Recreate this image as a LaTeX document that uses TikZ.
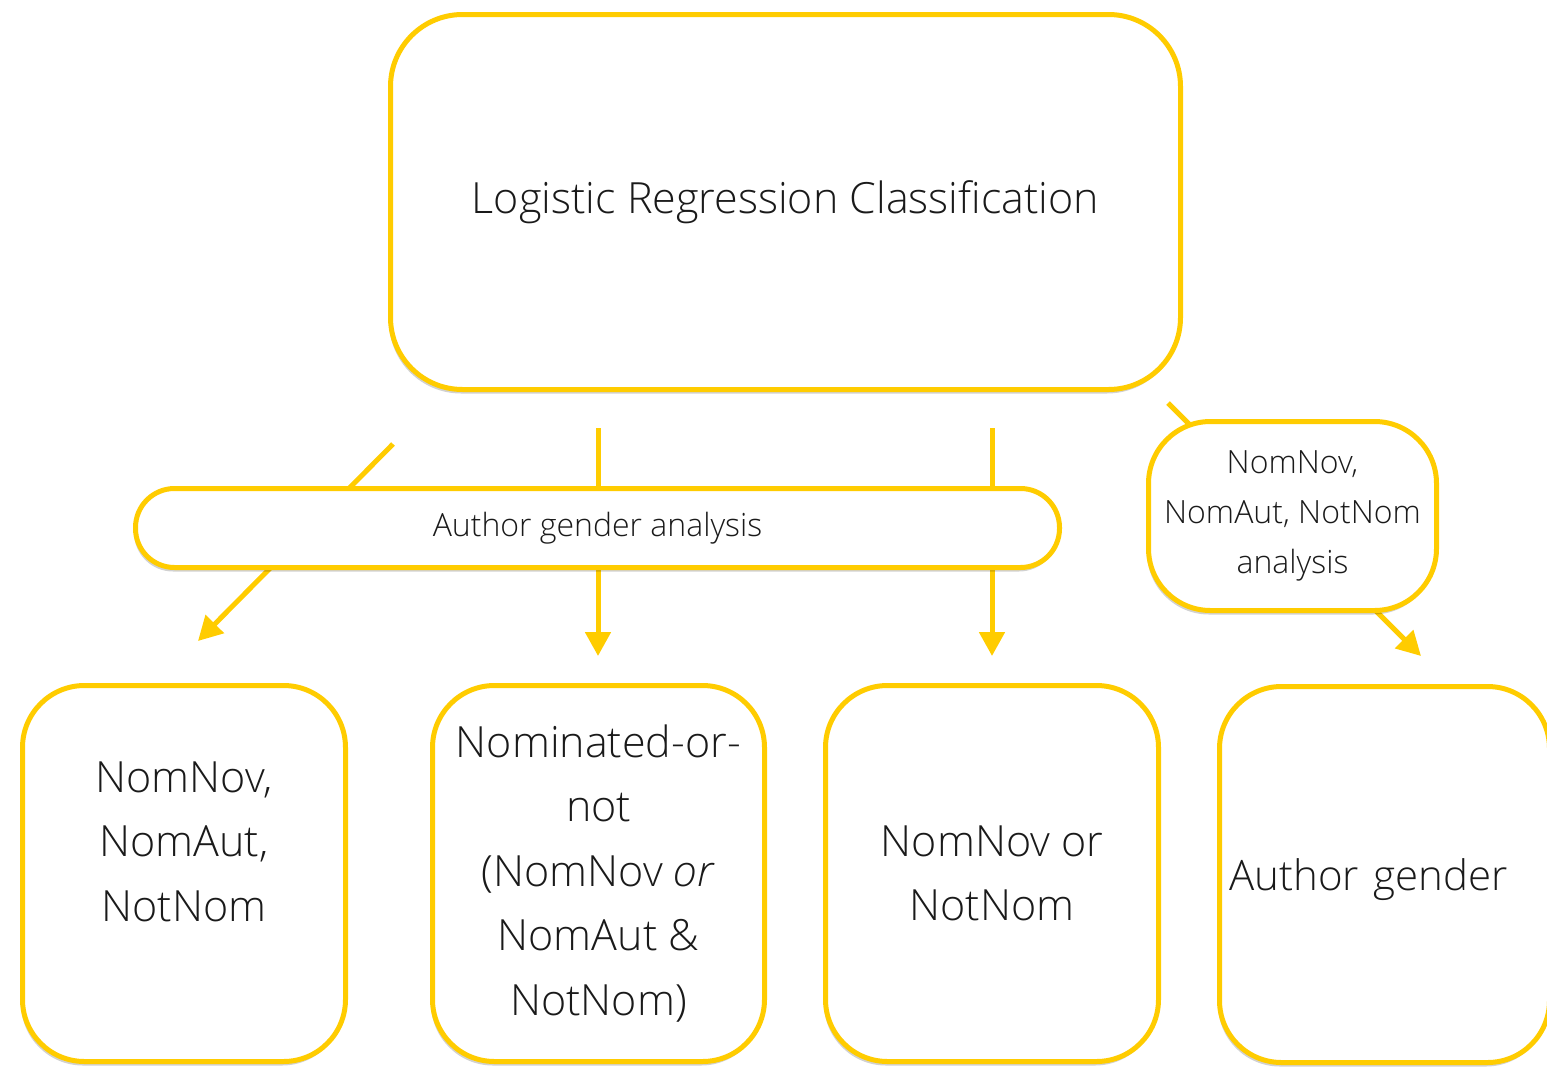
\documentclass[tikz,border=0pt]{standalone}
\usepackage{fontspec}
\IfFontExistsTF{Open Sans Light}{\setmainfont{Open Sans Light}[ItalicFont={Open Sans Light Italic}]}{\setmainfont{Open Sans}}
\usetikzlibrary{arrows.meta,shadows}
\definecolor{ylw}{HTML}{FFCC00}
\definecolor{ink}{HTML}{1A1A1A}
\tikzset{
  box/.style={draw=ylw, line width=5pt, fill=white, text=ink, align=center,
    drop shadow={shadow xshift=-1.5pt, shadow yshift=-4pt, opacity=0.18, fill=black}},
  conn/.style={draw=ylw, line width=5pt},
  arr/.style={conn, -{Triangle[width=25pt,length=24pt]}},
}
\begin{document}
\begin{tikzpicture}[x=1pt,y=-1pt]
\useasboundingbox (0,0) rectangle (1547,1068);
\clip (0,0) rectangle (1547,1068);
% free ends of connectors
\coordinate (l1s) at (393,444); \coordinate (l1e) at (198,641);
\coordinate (l2s) at (598,428); \coordinate (l2e) at (598,656);
\coordinate (l3s) at (992,428); \coordinate (l3e) at (992,656);
\coordinate (l4s) at (1168,403); \coordinate (l4e) at (1421,656);
\draw[arr] (l1s) -- (l1e);
\draw[arr] (l2s) -- (l2e);
\draw[arr] (l3s) -- (l3e);
\draw[arr] (l4s) -- (l4e);
% nodes
\node[box, minimum width=790pt, minimum height=375pt, rounded corners=72pt,
  font=\fontsize{43}{52}\selectfont] (top) at (785.5,202) {Logistic Regression Classification};
\node[box, minimum width=924pt, minimum height=79pt, rounded corners=39pt,
  font=\fontsize{32}{38}\selectfont] (band) at (597.5,528) {\raisebox{-2pt}{Author gender analysis}};
\node[box, minimum width=288pt, minimum height=189pt, rounded corners=62pt, inner sep=0pt,
  font=\fontsize{32}{50}\selectfont] (bub) at (1292.5,516) {NomNov,\\NomAut, NotNom\\analysis};
\node[box, minimum width=323pt, minimum height=376pt, rounded corners=62pt, inner sep=0pt,
  font=\fontsize{43}{64.5}\selectfont] (b1) at (184,873.5) {NomNov,\\NomAut,\\NotNom\\\mbox{}};
\node[box, minimum width=332pt, minimum height=376pt, rounded corners=62pt, inner sep=0pt,
  font=\fontsize{43}{64.5}\selectfont] (b2) at (598.5,873.5) {Nominated-or-\\not\\(NomNov \textit{or}\\NomAut \&\\NotNom)};
\node[box, minimum width=333pt, minimum height=376pt, rounded corners=62pt, inner sep=0pt,
  font=\fontsize{43}{64.5}\selectfont] (b3) at (992,873.5) {NomNov or\\NotNom};
\node[box, minimum width=330pt, minimum height=376pt, rounded corners=62pt, inner xsep=10pt,
  inner ysep=0pt, text width=310pt, align=left, text height=45pt, text depth=14pt,
  font=\fontsize{42}{64.5}\selectfont] (b4) at (1384.5,874.5) {Author gender};
\end{tikzpicture}
\end{document}
